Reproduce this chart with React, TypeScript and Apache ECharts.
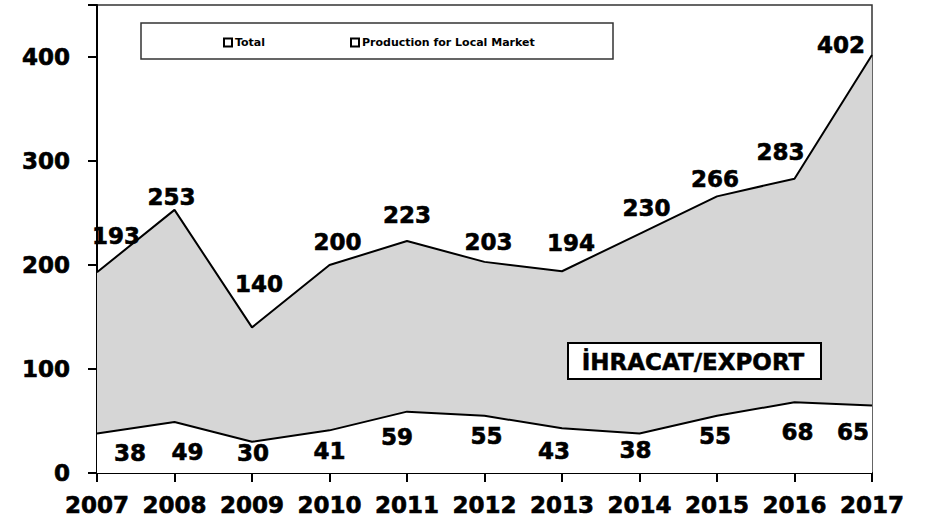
import React, { useEffect, useRef } from "react";
import * as echarts from "echarts";

const years = ["2007", "2008", "2009", "2010", "2011", "2012", "2013", "2014", "2015", "2016", "2017"];
const totalValues = [193, 253, 140, 200, 223, 203, 194, 230, 266, 283, 402];
const localValues = [38, 49, 30, 41, 59, 55, 43, 38, 55, 68, 65];
const yTicks = [0, 100, 200, 300, 400];

// label nudges (px) to mimic hand-placed labels
const totalLabelOffsets = [[19, -20], [-3, 4], [7, -27], [8, -7], [0, -10], [4, -3], [9, -12], [7, -9], [-2, -1], [-14, -10], [-31, 7]];
const localLabelOffsets = [[33, 3], [13, 13], [1, -5], [0, 4], [-10, 9], [2, 4], [-8, 6], [-4, 0], [-2, 4], [3, 13], [-19, 10]];

const FONT = "DejaVu Sans";

export default function App() {
  const ref = useRef<HTMLDivElement>(null);
  useEffect(() => {
    if (!ref.current) return;
    const chart = echarts.init(ref.current, null, { renderer: "svg" });
    const labelStyle = {
      color: "#000", fontFamily: FONT, fontWeight: "bold" as const, fontSize: 23,
      textBorderColor: "#000", textBorderWidth: 0.6,
    };
    const legendText = { fontFamily: FONT, fontWeight: "bold" as const, fontSize: 11, color: "#000", padding: [0, 0, 0, -2] };
    chart.setOption({
      animation: false,
      backgroundColor: "#fff",
      grid: { left: 97, right: 54, top: 5, bottom: 52, show: true, borderColor: "#333", borderWidth: 1.5, backgroundColor: "transparent" },
      legend: [
        {
          data: ["Total"], left: 218, top: 32, icon: "rect", itemWidth: 8, itemHeight: 8,
          itemStyle: { color: "#fff", borderColor: "#000", borderWidth: 2 },
          textStyle: legendText,
        },
        {
          data: ["Production for Local Market"], left: 345, top: 32, icon: "rect", itemWidth: 8, itemHeight: 8,
          itemStyle: { color: "#fff", borderColor: "#000", borderWidth: 2 },
          textStyle: legendText,
        },
      ],
      xAxis: {
        type: "category",
        data: years,
        boundaryGap: false,
        axisLine: { lineStyle: { color: "#000", width: 2 } },
        axisTick: { show: true, length: 9, interval: 0, lineStyle: { color: "#000", width: 2 } },
        axisLabel: { ...labelStyle, margin: 20, interval: 0 },
        splitLine: { show: false },
      },
      yAxis: {
        type: "value",
        min: 0,
        max: 450,
        interval: 100,
        axisLine: { show: true, lineStyle: { color: "#000", width: 2 } },
        axisTick: { show: true, length: 9, lineStyle: { color: "#000", width: 2 } },
        axisLabel: { ...labelStyle, margin: 27, formatter: (v: number) => (yTicks.includes(v) ? String(v) : "") },
        splitLine: { show: false },
      },
      series: [
        {
          name: "Total",
          type: "line",
          symbol: "circle",
          symbolSize: 0,
          itemStyle: { color: "#fff", borderColor: "#000" },
          lineStyle: { color: "#000", width: 2 },
          areaStyle: { color: "#d6d6d6", opacity: 1 },
          data: totalValues.map((v, i) => ({ value: v, label: { offset: totalLabelOffsets[i] } })),
          label: { show: true, position: "top", distance: 5, ...labelStyle },
          z: 2,
        },
        {
          name: "Production for Local Market",
          type: "line",
          symbol: "circle",
          symbolSize: 0,
          itemStyle: { color: "#fff", borderColor: "#000" },
          lineStyle: { color: "#000", width: 2 },
          areaStyle: { color: "#fff", opacity: 1 },
          data: localValues.map((v, i) => ({ value: v, label: { offset: localLabelOffsets[i] } })),
          label: { show: true, position: "bottom", distance: 5, ...labelStyle },
          z: 3,
        },
      ],
      graphic: [
        {
          type: "rect",
          shape: { x: 141, y: 23, width: 472, height: 36 },
          style: { fill: "none", stroke: "#333", lineWidth: 1.5 },
          z: 10,
          silent: true,
        },
        {
          type: "rect",
          shape: { x: 568, y: 343, width: 253, height: 36 },
          style: { fill: "#fff", stroke: "#000", lineWidth: 2 },
          z: 10,
          silent: true,
        },
        {
          type: "text",
          x: 693,
          y: 362,
          z: 11,
          silent: true,
          style: {
            text: "İHRACAT/EXPORT", fontFamily: FONT, fontWeight: "bold", fontSize: 23, fill: "#000",
            stroke: "#000", lineWidth: 0.5, align: "center", verticalAlign: "middle",
          },
        },
      ],
    });
    return () => chart.dispose();
  }, []);
  return <div ref={ref} style={{ position: "fixed", left: 0, top: 0, width: 926, height: 525 }} />;
}
